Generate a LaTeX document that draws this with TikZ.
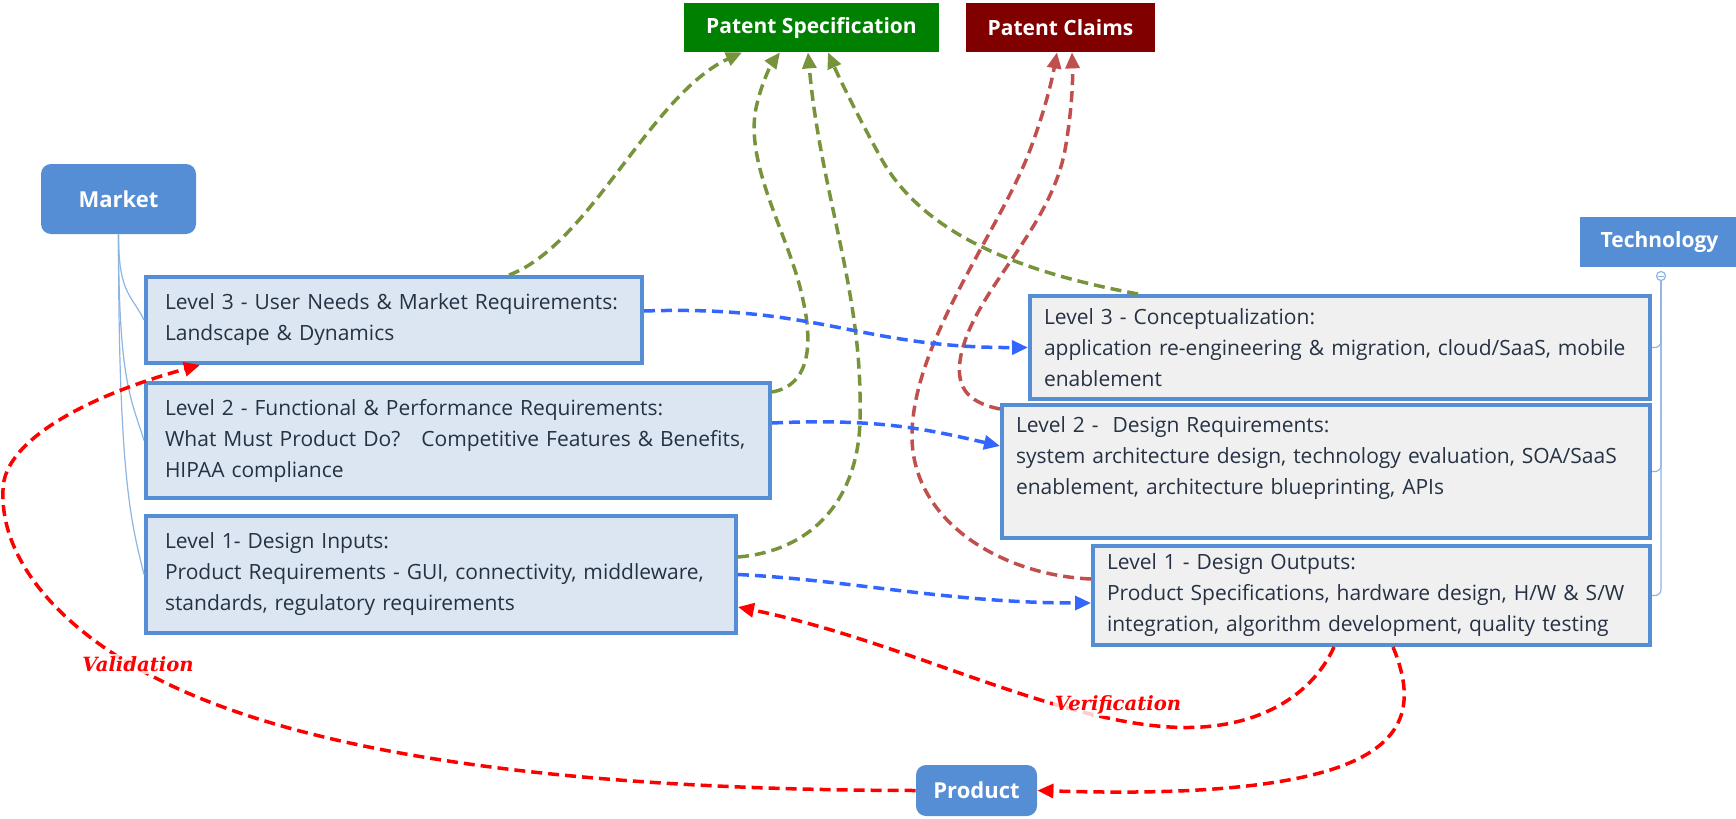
\documentclass[tikz,border=0pt]{standalone}
\usepackage{fontspec}
\setsansfont{Open Sans}
\newfontfamily\tagfont{DejaVu Serif}
\usetikzlibrary{arrows.meta}
\definecolor{boxblue}{RGB}{85,142,213}
\definecolor{treeblue}{RGB}{142,180,227}
\definecolor{leftfill}{RGB}{220,230,242}
\definecolor{rightfill}{RGB}{240,240,240}
\definecolor{boxtext}{RGB}{38,50,68}
\definecolor{specgreen}{RGB}{0,128,0}
\definecolor{claimred}{RGB}{128,0,0}
\definecolor{patgreen}{RGB}{119,147,60}
\definecolor{patred}{RGB}{192,80,77}
\definecolor{linkblue}{RGB}{51,102,255}
\begin{document}
\begin{tikzpicture}[x=0.5pt, y=-0.5pt, font=\sffamily,
  head/.style={fill=boxblue, text=white, inner sep=0pt, font=\sffamily\bfseries\fontsize{11}{13}\selectfont},
  patent/.style={head, font=\sffamily\bfseries\fontsize{10.5}{13}\selectfont, minimum height=24.5pt},
  need/.style={draw=boxblue, line width=2pt, fill=leftfill, text=boxtext, align=left, inner xsep=9.5pt, inner ysep=0pt, font=\sffamily\fontsize{10.5}{15.5}\selectfont},
  tech/.style={need, fill=rightfill, inner xsep=7pt},
  link/.style={dash pattern=on 5.5pt off 3pt, line width=1.75pt, -{Triangle[length=8pt,width=7pt]}},
  tree/.style={draw=treeblue, line width=0.6pt},
  tag/.style={text=red, fill=white, fill opacity=0.8, text opacity=1, inner sep=1pt, font=\tagfont\bfseries\itshape\fontsize{9.8}{12}\selectfont}]
\useasboundingbox (0,0) rectangle (1736,819);

\node[patent, fill=specgreen, minimum width=127.5pt] (spec) at (811.5,27.5) {Patent Specification};
\node[patent, fill=claimred, minimum width=94.5pt] (claims) at (1060.5,27.5) {Patent Claims};
\node[head, rounded corners=5pt, minimum width=77.5pt, minimum height=35pt] (market) at (118.5,199) {Market};
\node[head, minimum width=79.5pt, minimum height=25pt, font=\sffamily\bfseries\fontsize{10.5}{13}\selectfont] (techno) at (1659.5,242) {Technology};
\node[head, rounded corners=5pt, minimum width=60.5pt, minimum height=25.5pt] (product) at (976.5,790.5) {Product};

\node[need, minimum width=248pt, minimum height=43pt, text width=229pt] (need) at (394,320) {Level 3 - User Needs \& Market Requirements:\\Landscape \& Dynamics};
\node[need, minimum width=312pt, minimum height=57.5pt, text width=293pt] (func) at (458,440.5) {Level 2 - Functional \& Performance Requirements:\\What Must Product Do?\ \ \ Competitive Features \& Benefits,\\HIPAA compliance};
\node[need, minimum width=295pt, minimum height=58.5pt, text width=276pt] (input) at (441,574.5) {Level 1- Design Inputs:\\Product Requirements - GUI, connectivity, middleware,\\standards, regulatory requirements};
\node[tech, minimum width=310pt, minimum height=51.5pt, text width=296pt] (concept) at (1340,347.5) {Level 3 - Conceptualization:\\application re-engineering \& migration, cloud/SaaS, mobile\\enablement};
\node[tech, minimum width=324pt, minimum height=66.5pt, text width=310pt] (design) at (1326,471.5) {Level 2 -\ \ Design Requirements:\\system architecture design, technology evaluation, SOA/SaaS\\enablement, architecture blueprinting, APIs\\~};
\node[tech, minimum width=278.5pt, minimum height=49.5pt, text width=264.5pt] (output) at (1371.5,595.5) {Level 1 - Design Outputs:\\Product Specifications, hardware design, H/W \& S/W\\integration, algorithm development, quality testing};

\draw[tree] (market.south) .. controls +(0,60) and +(-12,-25) .. (need.west);
\draw[tree] (market.south) .. controls +(0,150) and +(-12,-40) .. (func.west);
\draw[tree] (market.south) .. controls +(0,250) and +(-12,-50) .. (input.west);
\node[circle, draw=treeblue, line width=0.6pt, fill=white, minimum size=4.5pt, inner sep=0pt] (fold) at (1661,276) {};
\draw[treeblue, line width=0.5pt] ([xshift=-1.3pt]fold.center) -- ([xshift=1.3pt]fold.center);
\draw[tree, rounded corners=3pt] (fold.south) |- (concept.east);
\draw[tree, rounded corners=3pt] (fold.south) |- (design.east);
\draw[tree, rounded corners=3pt] (fold.south) |- (output.east);

\draw[link, patgreen] ([xshift=57.5pt]need.north) .. controls (590,245) and (650,95) .. ([xshift=-34.75pt]spec.south);
\draw[link, patgreen] ([yshift=-5.5pt]func.north east) .. controls (812,385) and (812,340) .. (803,300) .. controls (790,235) and (740,160) .. (758,100) .. controls (763,80) and (772,63) .. ([xshift=-15.75pt]spec.south);
\draw[link, patgreen] ([yshift=-21.5pt]input.north east) .. controls (820,550) and (862,490) .. (860,410) .. controls (862,290) and (820,190) .. ([xshift=-1.75pt]spec.south);
\draw[link, patgreen] ([xshift=-101pt]concept.north) .. controls (1020,272) and (925,235) .. (882,160) .. controls (860,120) and (840,80) .. ([xshift=8.25pt]spec.south);

\draw[link, patred] ([yshift=-3pt]design.north west) .. controls (965,402) and (955,385) .. (961,355) .. controls (975,290) and (1050,230) .. (1065,150) .. controls (1072,110) and (1073,80) .. ([xshift=5.75pt]claims.south);
\draw[link, patred] ([yshift=-17.5pt]output.north west) .. controls (1000,575) and (910,520) .. (912,433) .. controls (914,340) and (1000,230) .. (1030,150) .. controls (1045,110) and (1052,80) .. ([xshift=-1.75pt]claims.south);

\draw[link, linkblue] ([yshift=4.5pt]need.east) .. controls (820,305) and (860,348) .. (concept.west);
\draw[link, linkblue] ([yshift=8.75pt]func.east) .. controls (880,418) and (930,430) .. ([yshift=12.75pt]design.west);
\draw[link, linkblue] (input.east) .. controls (850,580) and (950,603) .. ([yshift=-3.75pt]output.west);

\draw[link, red] ([xshift=-18.75pt]output.south) .. controls (1310,700) and (1250,732) .. (1170,727) .. controls (1050,720) and (900,640) .. ([yshift=-16.25pt]input.east);
\draw[link, red] ([xshift=10.75pt]output.south) .. controls (1415,700) and (1410,745) .. (1330,770) .. controls (1250,795) and (1120,793) .. (product.east);
\draw[link, red] (product.west) .. controls (620,790) and (320,765) .. (150,675) .. controls (60,628) and (0,560) .. (3,490) .. controls (3,440) and (90,395) .. ([xshift=-97pt]need.south);

\node[tag] (val) at (138,664) {Validation};
\node[tag] (ver) at (1118,705) {Verification};
\end{tikzpicture}
\end{document}
